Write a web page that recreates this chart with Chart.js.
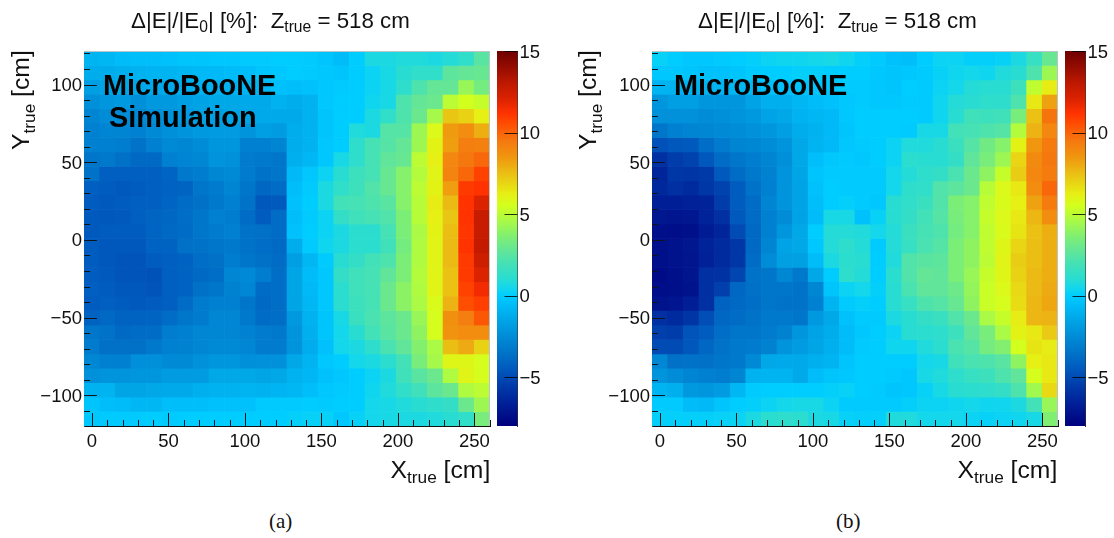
<!DOCTYPE html>
<html>
<head>
<meta charset="utf-8">
<script src="https://cdn.jsdelivr.net/npm/chart.js@4"></script>
<style>
  body{margin:0;background:#fff;width:1114px;height:538px;position:relative;overflow:hidden;font-family:"Liberation Sans",Arial,sans-serif;color:#111}
  canvas{position:absolute;top:0}
  .txt{position:absolute;white-space:pre;line-height:1}
  .txt sub{font-size:.7em;vertical-align:baseline;position:relative;top:.32em;line-height:0}
  .title{font-size:22.3px;top:9.5px}
  .xt{font-size:24.7px;top:457.5px}
  .yt{font-size:24.7px;transform-origin:0 0;transform:rotate(-90deg);top:150px}
  .tag{font:bold 28.9px "Liberation Sans",Arial,sans-serif;color:#000}
  .cap{font:21px "Liberation Serif",serif;top:509px}
</style>
</head>
<body>
<canvas id="plotA" width="497" height="480" style="left:0"></canvas>
<canvas id="barA" width="60" height="480" style="left:490px"></canvas>
<canvas id="plotB" width="497" height="480" style="left:567.5px"></canvas>
<canvas id="barB" width="50" height="480" style="left:1057.5px"></canvas>

<div class="txt title" style="left:131px">&Delta;|E|/|E<sub>0</sub>| [%]:  Z<sub>true</sub> = 518 cm</div>
<div class="txt title" style="left:698px">&Delta;|E|/|E<sub>0</sub>| [%]:  Z<sub>true</sub> = 518 cm</div>
<div class="txt xt" style="left:390.5px">X<sub>true</sub> [cm]</div>
<div class="txt xt" style="left:957.5px">X<sub>true</sub> [cm]</div>
<div class="txt yt" style="left:9px">Y<sub>true</sub> [cm]</div>
<div class="txt yt" style="left:576px">Y<sub>true</sub> [cm]</div>
<div class="txt tag" style="left:103px;top:69px">MicroBooNE</div>
<div class="txt tag" style="left:109px;top:101px">Simulation</div>
<div class="txt tag" style="left:674px;top:69px">MicroBooNE</div>
<div class="txt cap" style="left:269px">(a)</div>
<div class="txt cap" style="left:836px">(b)</div>

<script>
// bin centres along x and bin edges along y (top to bottom)
const xCenters=[0,10.2,20.4,30.6,40.8,51,61.2,71.4,81.6,91.8,102,112.2,122.4,132.6,142.8,153,163.2,173.4,183.6,193.8,204,214.2,224.4,234.6,244.8,255];
const yEdges=[121.6,112.3,103,93.7,84.5,75.2,65.9,56.6,47.3,38,28.8,19.5,10.2,0.9,-8.4,-17.7,-26.9,-36.2,-45.5,-54.8,-64.1,-73.4,-82.6,-91.9,-101.2,-110.5,-119.8];

// tick positions, every 10 cm with a label every 50 cm
const xTicks=[0,10,20,30,40,50,60,70,80,90,100,110,120,130,140,150,160,170,180,190,200,210,220,230,240,250,260];
const yTicks=[120,110,100,90,80,70,60,50,40,30,20,10,0,-10,-20,-30,-40,-50,-60,-70,-80,-90,-100,-110];
const xLabels=[0,50,100,150,200,250];
const yLabels=[100,50,0,-50,-100];
const zTicks=[15,10,5,0,-5];

// panel (a), one row per y bin, top row first
const panelA=[
[-0.9,-0.8,-0.6,-0.5,-0.5,-0.4,-0.3,-0.3,-0.2,-0.2,-0.1,-0.1,0,0,-0.1,-0.3,-0.6,0,0.7,0.7,0.8,0.8,0.7,0.9,1.3,2.5],
[-1.2,-1.2,-1.1,-1,-0.9,-0.9,-0.8,-0.7,-0.7,-0.6,-0.5,-0.3,-0.2,0,-0.1,-0.2,-0.3,0,0.3,0.6,1,1.3,1.3,2.6,2.8,2.9],
[-1.8,-1.6,-1.4,-1.4,-1.3,-1.3,-1.1,-1,-1,-1,-0.9,-0.8,-0.4,-0.5,-0.4,-0.2,-0.1,0,0.3,0.6,1.2,2.2,2.8,2.8,4.2,3.3],
[-2.4,-2.1,-2,-2.4,-2,-2,-1.8,-1.6,-1.4,-1.4,-1.3,-1.3,-1,-1.2,-1,-0.2,0,0,0.4,0.6,2.2,2.8,3,5,5.5,5.2],
[-2.8,-2.5,-2.5,-2.6,-2.4,-2.2,-1.9,-1.7,-1.7,-1.5,-1.5,-1.3,-1.3,-1.3,-1,-0.3,0,0,0.7,1.3,2.2,3,4.5,7.3,7,6.2],
[-3,-2.8,-2.8,-2.9,-2.6,-2.4,-2.2,-2,-1.9,-1.9,-2.2,-1.8,-1.9,-1.2,-1,-0.3,0,0.8,0.7,2.4,2.4,4.3,5.8,8.4,8.8,7.9],
[-3,-3,-3.1,-3.5,-3,-2.6,-2.7,-2.5,-2.1,-2.1,-3,-3,-2.8,-1.2,-1,-0.2,0,1.2,2,2.4,2.8,4.3,6.1,8.3,9.3,9.2],
[-3.4,-3.3,-3.6,-3.9,-3.9,-3,-2.8,-2.7,-2.2,-2.3,-3.2,-3.3,-3.4,-1.1,-0.8,-0.2,0.6,1.2,2,2.7,2.9,5,6.2,9,9.5,9.9],
[-3.5,-4.3,-4.3,-4.3,-4.3,-4.1,-3.3,-3.1,-2.7,-2.6,-3.2,-3.5,-3.4,-0.7,-0.2,0.3,1,1.7,2,2.9,3.8,4.8,6,9.1,9.9,10.8],
[-4.3,-4.4,-4.5,-4.4,-4.3,-4.2,-4.1,-3.4,-3.2,-2.8,-3.4,-4,-3.8,-0.5,-0.1,0.7,1.3,1.7,2.3,2.9,3.8,5,6.1,8.3,11,11.2],
[-4.4,-4.5,-4.4,-4.3,-4.3,-4.1,-3.8,-3.6,-3.3,-3,-3.5,-4.6,-4.5,-0.4,0,0.7,1.9,2,2.2,2.5,3.8,4.9,6.3,7.6,11.2,12],
[-4.5,-4.6,-4.5,-4.3,-4.1,-4,-3.7,-3.4,-3,-3.1,-3.8,-4.4,-3.8,-0.5,-0.1,0.3,1.4,1.8,2,2.3,3.5,4.9,6.2,7.3,11.2,12.7],
[-4.5,-4.4,-4.4,-4.4,-4.1,-3.9,-3.8,-3.4,-3.2,-3,-3.5,-3.6,-3.8,-0.4,0,0.3,0.7,1.1,1.1,2,3.5,4.6,6.1,7.5,11.1,12.7],
[-4.4,-4.6,-4.6,-4.6,-4.2,-4.2,-3.6,-3.5,-3.4,-3.3,-3.5,-3.7,-3.9,-1.2,-0.1,0.4,0.7,1.1,1.1,1.8,3.3,4.7,6,7.6,11.2,12.8],
[-4.4,-4.6,-4.7,-4.7,-4.4,-4.3,-4.2,-3.7,-3.6,-3.1,-3.4,-3.6,-3.8,-1.8,-0.8,-0.1,1,1.4,1.9,2.2,3.5,4.7,6,7.6,11,12.5],
[-4.4,-4.5,-4.7,-4.7,-4.8,-4.3,-4.2,-3.9,-3.7,-2.7,-2.6,-3.1,-3.7,-1.5,-0.6,-0.2,1.4,1.8,2,2.7,3.5,4.8,6,7.4,11,12],
[-4.3,-4.4,-4.6,-4.6,-4.7,-4.3,-4.2,-3.6,-3.4,-2.9,-2.7,-3.8,-3.7,-1.5,-0.7,-0.2,1.1,1.8,2,3,3.9,4.7,6,7.4,10.8,11.5],
[-4.4,-4.3,-4.4,-4.5,-4.4,-4.3,-3.8,-3.2,-3,-3,-3.4,-3.9,-3.7,-1.5,-0.8,-0.2,1.1,1.7,2,3,3.9,4.6,5.7,7.8,10.5,10.9],
[-4.2,-3.9,-4.2,-4.2,-4.1,-3.8,-3.4,-3.2,-2.7,-2.7,-3.3,-3.8,-3.7,-2,-1,-0.3,0.6,1.6,2.1,2.6,3,4.2,5.6,8.7,9.3,10.3],
[-3.4,-3.5,-3.9,-3.8,-3.8,-3.1,-3,-2.7,-2.7,-2.7,-2.9,-3.2,-3.3,-2.2,-1.1,-0.3,0.5,1,1.9,2.5,3,4,5.6,8.6,8.8,8.8],
[-3.2,-3.6,-3.6,-3.6,-3.3,-3,-2.9,-2.7,-2.6,-2.6,-2.7,-3.2,-3.2,-2.2,-1.2,-0.4,0.5,0.7,1.2,2.1,2.7,3.7,4.6,7.5,8,7],
[-2.7,-3,-3,-2.4,-2.4,-2.6,-2.6,-2.3,-2.1,-2.1,-2.4,-2.3,-2.3,-1.4,-0.9,-0.2,0,0.5,0.7,1.1,1.9,3.4,4.5,5.9,5.9,5.6],
[-2.3,-2.2,-2.2,-2.1,-2.1,-1.9,-1.9,-1.9,-1.4,-1.4,-1.4,-1.5,-1.4,-1,-0.8,-0.4,-0.2,0,0.3,0.7,1.8,2.5,3,4.7,6,5.6],
[-1,-0.9,-1.5,-1.5,-1.4,-1.3,-1.3,-1.1,-1,-1,-0.9,-1,-0.9,-0.8,-0.5,-0.2,-0.1,0,0.4,0.8,1.3,1.8,2.6,3,4.7,5],
[-0.3,-0.5,-0.6,-0.8,-0.8,-0.5,-0.5,-0.5,-0.4,-0.4,-0.4,-0.1,-0.1,-0.1,0,-0.1,0,0,0.5,0.6,0.8,1,1.2,1.4,3,4.3],
[-0.2,-0.1,-0.1,-0.1,0,-0.1,0,0,0,0,0,0,0,0.1,0.2,0.2,-0.2,0.2,0.5,0.6,0.7,0.7,0.8,1,1.3,3.4]
];

// panel (b), same layout
const panelB=[
[0.2,0,-0.2,-0.2,-0.1,0,0.1,0.3,0.4,0.4,0.5,0.6,0.4,0.1,-0.1,-0.4,-0.5,0,0.3,0.3,0.1,0.1,0.2,0.7,1.5,2.9],
[-0.2,-0.2,-0.3,-0.4,-0.4,-0.3,-0.1,0,0,0.1,0.1,0,0,0,-0.2,-0.3,-0.2,-0.1,0.2,0.4,0.5,0.4,0.8,1,2.2,4.3],
[-0.9,-1,-1,-1,-0.9,-0.8,-0.7,-0.4,-0.4,-0.3,-0.3,-0.2,-0.1,-0.1,-0.2,-0.3,0,-0.1,0.3,0.5,0.9,1,1,1.7,5.1,6.3],
[-2.1,-1.8,-1.8,-2.1,-2.1,-2.1,-1.6,-1.1,-1.1,-0.8,-0.6,-0.4,-0.2,-0.1,-0.2,-0.2,-0.1,-0.1,0.4,0.9,1,1.2,1.2,2.2,6.4,8.2],
[-2.3,-2.3,-2.3,-2.5,-2.4,-2.2,-2,-1.6,-1.4,-1,-0.8,-0.7,-0.2,0,0,0,0,-0.1,0.4,1,1.8,1.7,1.8,3.4,7.4,9.6],
[-3.4,-3,-2.8,-2.7,-2.6,-2.5,-2.3,-2.1,-1.8,-1.2,-1,-0.7,-0.3,0,0,0,-0.1,0.6,0.6,1.9,2,2.2,2.4,4.8,7.8,9],
[-4.8,-4.6,-4.5,-3.7,-3.2,-2.8,-2.7,-2.5,-2.2,-1.4,-0.9,-0.7,-0.2,-0.1,0,0.3,0.8,0.8,1,1.6,2.4,3.2,3.8,6.1,8.5,9.4],
[-6,-5.5,-5.3,-4.6,-3.8,-3.4,-3.1,-2.8,-2.4,-1.4,-0.5,-0.2,-0.1,-0.2,0,0.3,1.1,1,1,1.4,2.7,3.4,4.3,6.9,8.9,9.5],
[-6.4,-5.7,-5.8,-5.6,-4.5,-3.8,-3.3,-2.9,-2.2,-1.5,-0.3,-0.1,-0.1,-0.1,-0.1,0.5,0.9,1.2,1.4,2.1,3,4,5.2,7.1,9,9.4],
[-6.3,-6,-6.2,-5.7,-5.3,-4.4,-3.5,-3,-2.2,-1.6,-0.4,0,-0.1,-0.1,-0.1,0.5,1.2,1.3,2.3,2.6,3,4.9,5.8,6.4,8.8,9.9],
[-6.7,-6.7,-6.6,-6.5,-5.5,-4.4,-3.8,-2.8,-2.2,-1.6,-0.5,0,0.1,-0.1,-0.2,1,1.3,1.6,2.3,3.5,3.8,5.1,5.7,6.2,8.2,9.4],
[-7,-7.1,-7,-6.5,-6,-4.5,-3.8,-3,-2.5,-1.6,-0.6,0.6,0.6,-0.4,0.2,1,1.4,1.9,2.4,3.4,3.8,5.2,5.8,6.4,7.7,8.8],
[-7.3,-7.4,-7.3,-6.8,-6.4,-5,-3.9,-3,-2.1,-1.4,0,0.9,0.9,0.8,0.5,0.9,1.6,2,2.2,3.3,3.8,5.1,5.7,6.5,7.4,7.9],
[-7.3,-7.2,-7,-6.5,-6.2,-5.7,-3.9,-2.8,-1.6,-1.4,-0.2,0.9,1.2,0.9,-0.1,0.9,1.5,2.1,2.4,3.5,4,5.1,5.9,6.9,7.5,7.9],
[-7.3,-7.2,-7.1,-6.6,-6.2,-5.7,-3.8,-2.5,-1.7,-1.7,-0.6,0.7,1.1,1,0,0.8,2.3,2.5,2.6,3.5,4,5,6,7.1,7.5,7.9],
[-7.5,-7.3,-7.1,-6,-5.9,-5.2,-3.5,-3.4,-2.7,-3.3,-1.4,0,1.2,0.9,0,1.1,2.3,2.8,2.7,3.5,4.2,5.2,5.9,7,7.6,7.9],
[-7.4,-7.3,-7.2,-6,-5.4,-4,-3.6,-3.4,-3.4,-3.5,-2.7,-0.3,0.3,0.5,0.1,1,2.1,2.7,2.7,3.1,4.1,5.3,5.8,6.8,7.6,8],
[-7.2,-7.1,-6.7,-6,-4.2,-3.9,-3.7,-3.4,-3.5,-3.5,-3,-0.9,-0.1,0.1,0,1,1.5,2.2,2.4,2.9,4,5.3,5.6,6.7,7.7,8.1],
[-6,-6.2,-5.8,-4.9,-4,-3.8,-3.5,-3.3,-3.3,-3.4,-2,-1.4,-0.4,-0.1,-0.1,0.7,1,1.4,1.6,2.3,3,4.6,5.2,6.3,7.7,7.8],
[-5.4,-5.5,-4.7,-4.4,-3.7,-3.4,-3.4,-3.2,-2.9,-2.1,-1.6,-1.2,-0.6,-0.2,0,0.3,1,1.1,1.2,1.7,2.7,3.4,4.6,6.1,6.4,7.2],
[-5,-5,-4.6,-4,-3.5,-3.3,-3.2,-2.9,-2.2,-1.9,-1.5,-1.1,-0.6,-0.1,0,0.4,0.4,0.8,1.1,2.1,2.4,3.3,3.7,5.5,6.5,6.3],
[-2.7,-3.6,-3.5,-3.6,-3.4,-3.3,-2.6,-1.4,-1.3,-1.3,-1.1,-0.9,-0.3,0,0,0,0,0.5,0.6,1.8,2.1,2.2,2.5,4,6.2,6.4],
[-2.2,-2.5,-2.8,-3,-3.1,-2.8,-1,-0.9,-0.9,-1.3,-0.6,-0.3,-0.2,0,0,-0.1,-0.2,0.6,0.8,1.2,1.5,1.7,2.2,2.7,5.6,6.4],
[-0.9,-1.1,-2,-2.1,-1.9,-0.8,-0.1,0,0,0,0,0.1,0.2,0,-0.1,-0.3,-0.2,0.2,0.6,1,1.1,1.2,1.4,2.2,4.4,6.8],
[-0.1,-0.1,-0.6,-0.7,-0.3,0,0.1,0.3,0.5,0.6,0.6,0.3,-0.1,-0.1,-0.1,-0.1,0.1,0.3,0.3,0.4,0.5,0.4,0.4,0.7,1.9,4.2],
[0.1,0.1,0.1,0.1,0.2,0.3,0.7,1.1,1.2,1.1,0.7,0.6,0.2,0.1,0.1,0.8,0.8,0.5,0.5,0.5,0.3,0.2,0.3,0.4,0.6,3.6]
];

// colour palette: value, then r g b
const zMin=-8, zMax=15;
const palette=[
  [-8,0,0,125],[-6.7,0,30,150],[-5.5,0,60,170],[-4.5,0,90,190],[-3.5,0,115,200],[-2.5,0,140,215],[-1.5,0,165,230],[-0.5,0,190,250],[0,0,205,255],
  [0.5,20,215,235],[1,40,220,210],[2,70,225,180],[2.8,100,230,150],[3.7,130,240,110],[4.6,170,250,70],[5.5,210,255,30],[6.2,230,240,20],
  [7.5,235,190,20],[8.5,240,150,15],[9.5,245,120,15],[10.7,255,70,0],[11.2,255,50,0],[12,220,35,0],[13,190,25,0],[15,110,0,0]
];

function colourFor(v){
  let i=0;
  while(i<palette.length-2 && v>palette[i+1][0]) i++;
  const a=palette[i], b=palette[i+1];
  const t=Math.min(1,Math.max(0,(v-a[0])/(b[0]-a[0])));
  return "rgb("+[1,2,3].map(k=>Math.round(a[k]+(b[k]-a[k])*t)).join(",")+")";
}

// minus sign, and an empty first line with a tiny line height pushes the label down a little
const tickText=v=>["",String(v).replace("-","\u2212")];
const tickFont={family:"Liberation Sans",size:18.5,lineHeight:"3px"};

// ROOT style ticks drawn inwards, long at labelled values
const insideTicks={
  id:"insideTicks",
  afterDatasetsDraw(chart){
    const c=chart.ctx, a=chart.chartArea;
    c.save();
    c.strokeStyle="rgb(15,20,25)";
    c.lineWidth=1;
    c.beginPath();
    xTicks.forEach(v=>{
      const px=Math.round(chart.scales.x.getPixelForValue(v))+0.5;
      const len=xLabels.includes(v)?13:6;
      c.moveTo(px,a.bottom); c.lineTo(px,a.bottom-len);
    });
    yTicks.forEach(v=>{
      const py=Math.round(chart.scales.y.getPixelForValue(v))+0.5;
      const len=yLabels.includes(v)?13:6;
      c.moveTo(a.left,py); c.lineTo(a.left+len,py);
    });
    c.stroke();
    // light frame on top and right
    c.strokeStyle="#b9c4c9";
    c.beginPath();
    c.moveTo(a.left,a.top+0.5); c.lineTo(a.right-0.5,a.top+0.5); c.lineTo(a.right-0.5,a.bottom);
    c.stroke();
    c.restore();
  }
};

function drawPanel(id,rows){
  // one floating bar per cell, one dataset per y bin
  const datasets=rows.map((row,r)=>({
    data:row.map((v,i)=>({x:xCenters[i],y:[yEdges[r+1],yEdges[r]]})),
    backgroundColor:row.map(colourFor),
    borderWidth:0,
    barPercentage:1,
    categoryPercentage:1,
    grouped:false
  }));
  new Chart(document.getElementById(id),{
    type:"bar",
    data:{datasets},
    plugins:[insideTicks],
    options:{
      responsive:false,
      animation:false,
      events:[],
      layout:{padding:{top:51,right:7,left:0,bottom:0}},
      plugins:{legend:{display:false},tooltip:{enabled:false}},
      scales:{
        x:{
          type:"linear",min:-5.2,max:260.2,offset:false,
          grid:{display:false,drawTicks:false},
          border:{display:true,color:"#111",width:1},
          afterBuildTicks:s=>{s.ticks=xLabels.map(v=>({value:v}));},
          afterFit:s=>{s.height=54;},
          ticks:{color:"#111",font:{family:"Liberation Sans",size:18.5},padding:5,maxRotation:0,autoSkip:false}
        },
        y:{
          type:"linear",min:-119.8,max:121.6,
          grid:{display:false,drawTicks:false},
          border:{display:true,color:"#27475a",width:1},
          afterBuildTicks:s=>{s.ticks=yLabels.map(v=>({value:v}));},
          afterFit:s=>{s.width=84;},
          ticks:{color:"#111",font:tickFont,padding:2,autoSkip:false,callback:tickText}
        }
      }
    }
  });
}

function drawBar(id){
  new Chart(document.getElementById(id),{
    type:"bar",
    data:{labels:["z"],datasets:[{
      data:[[zMin,zMax]],
      barPercentage:1,
      categoryPercentage:1,
      borderWidth:0,
      backgroundColor(ctx){
        const a=ctx.chart.chartArea;
        if(!a) return "#000";
        const g=ctx.chart.ctx.createLinearGradient(0,a.bottom,0,a.top);
        palette.forEach(p=>g.addColorStop((p[0]-zMin)/(zMax-zMin),colourFor(p[0])));
        return g;
      }
    }]},
    plugins:[{
      id:"zTickMarks",
      afterDatasetsDraw(chart){
        const c=chart.ctx, a=chart.chartArea;
        c.save();
        c.strokeStyle="rgba(0,0,0,.8)";
        c.beginPath();
        zTicks.forEach(v=>{
          const py=Math.round(chart.scales.y.getPixelForValue(v))+0.5;
          c.moveTo(a.right,py); c.lineTo(a.right-13,py);
        });
        c.stroke();
        c.restore();
      }
    }],
    options:{
      responsive:false,
      animation:false,
      events:[],
      layout:{padding:{top:51,left:7,right:0,bottom:54}},
      plugins:{legend:{display:false},tooltip:{enabled:false}},
      scales:{
        x:{display:false},
        y:{
          position:"right",min:zMin,max:zMax,
          grid:{display:false,drawTicks:false},
          border:{display:true,color:"#333",width:1},
          afterBuildTicks:s=>{s.ticks=zTicks.map(v=>({value:v}));},
          afterFit:s=>{s.width=s.chart.width-27.5;},
          ticks:{color:"#111",font:tickFont,padding:2,autoSkip:false,callback:tickText}
        }
      }
    }
  });
}

drawPanel("plotA",panelA);
drawPanel("plotB",panelB);
drawBar("barA");
drawBar("barB");
</script>
</body>
</html>
